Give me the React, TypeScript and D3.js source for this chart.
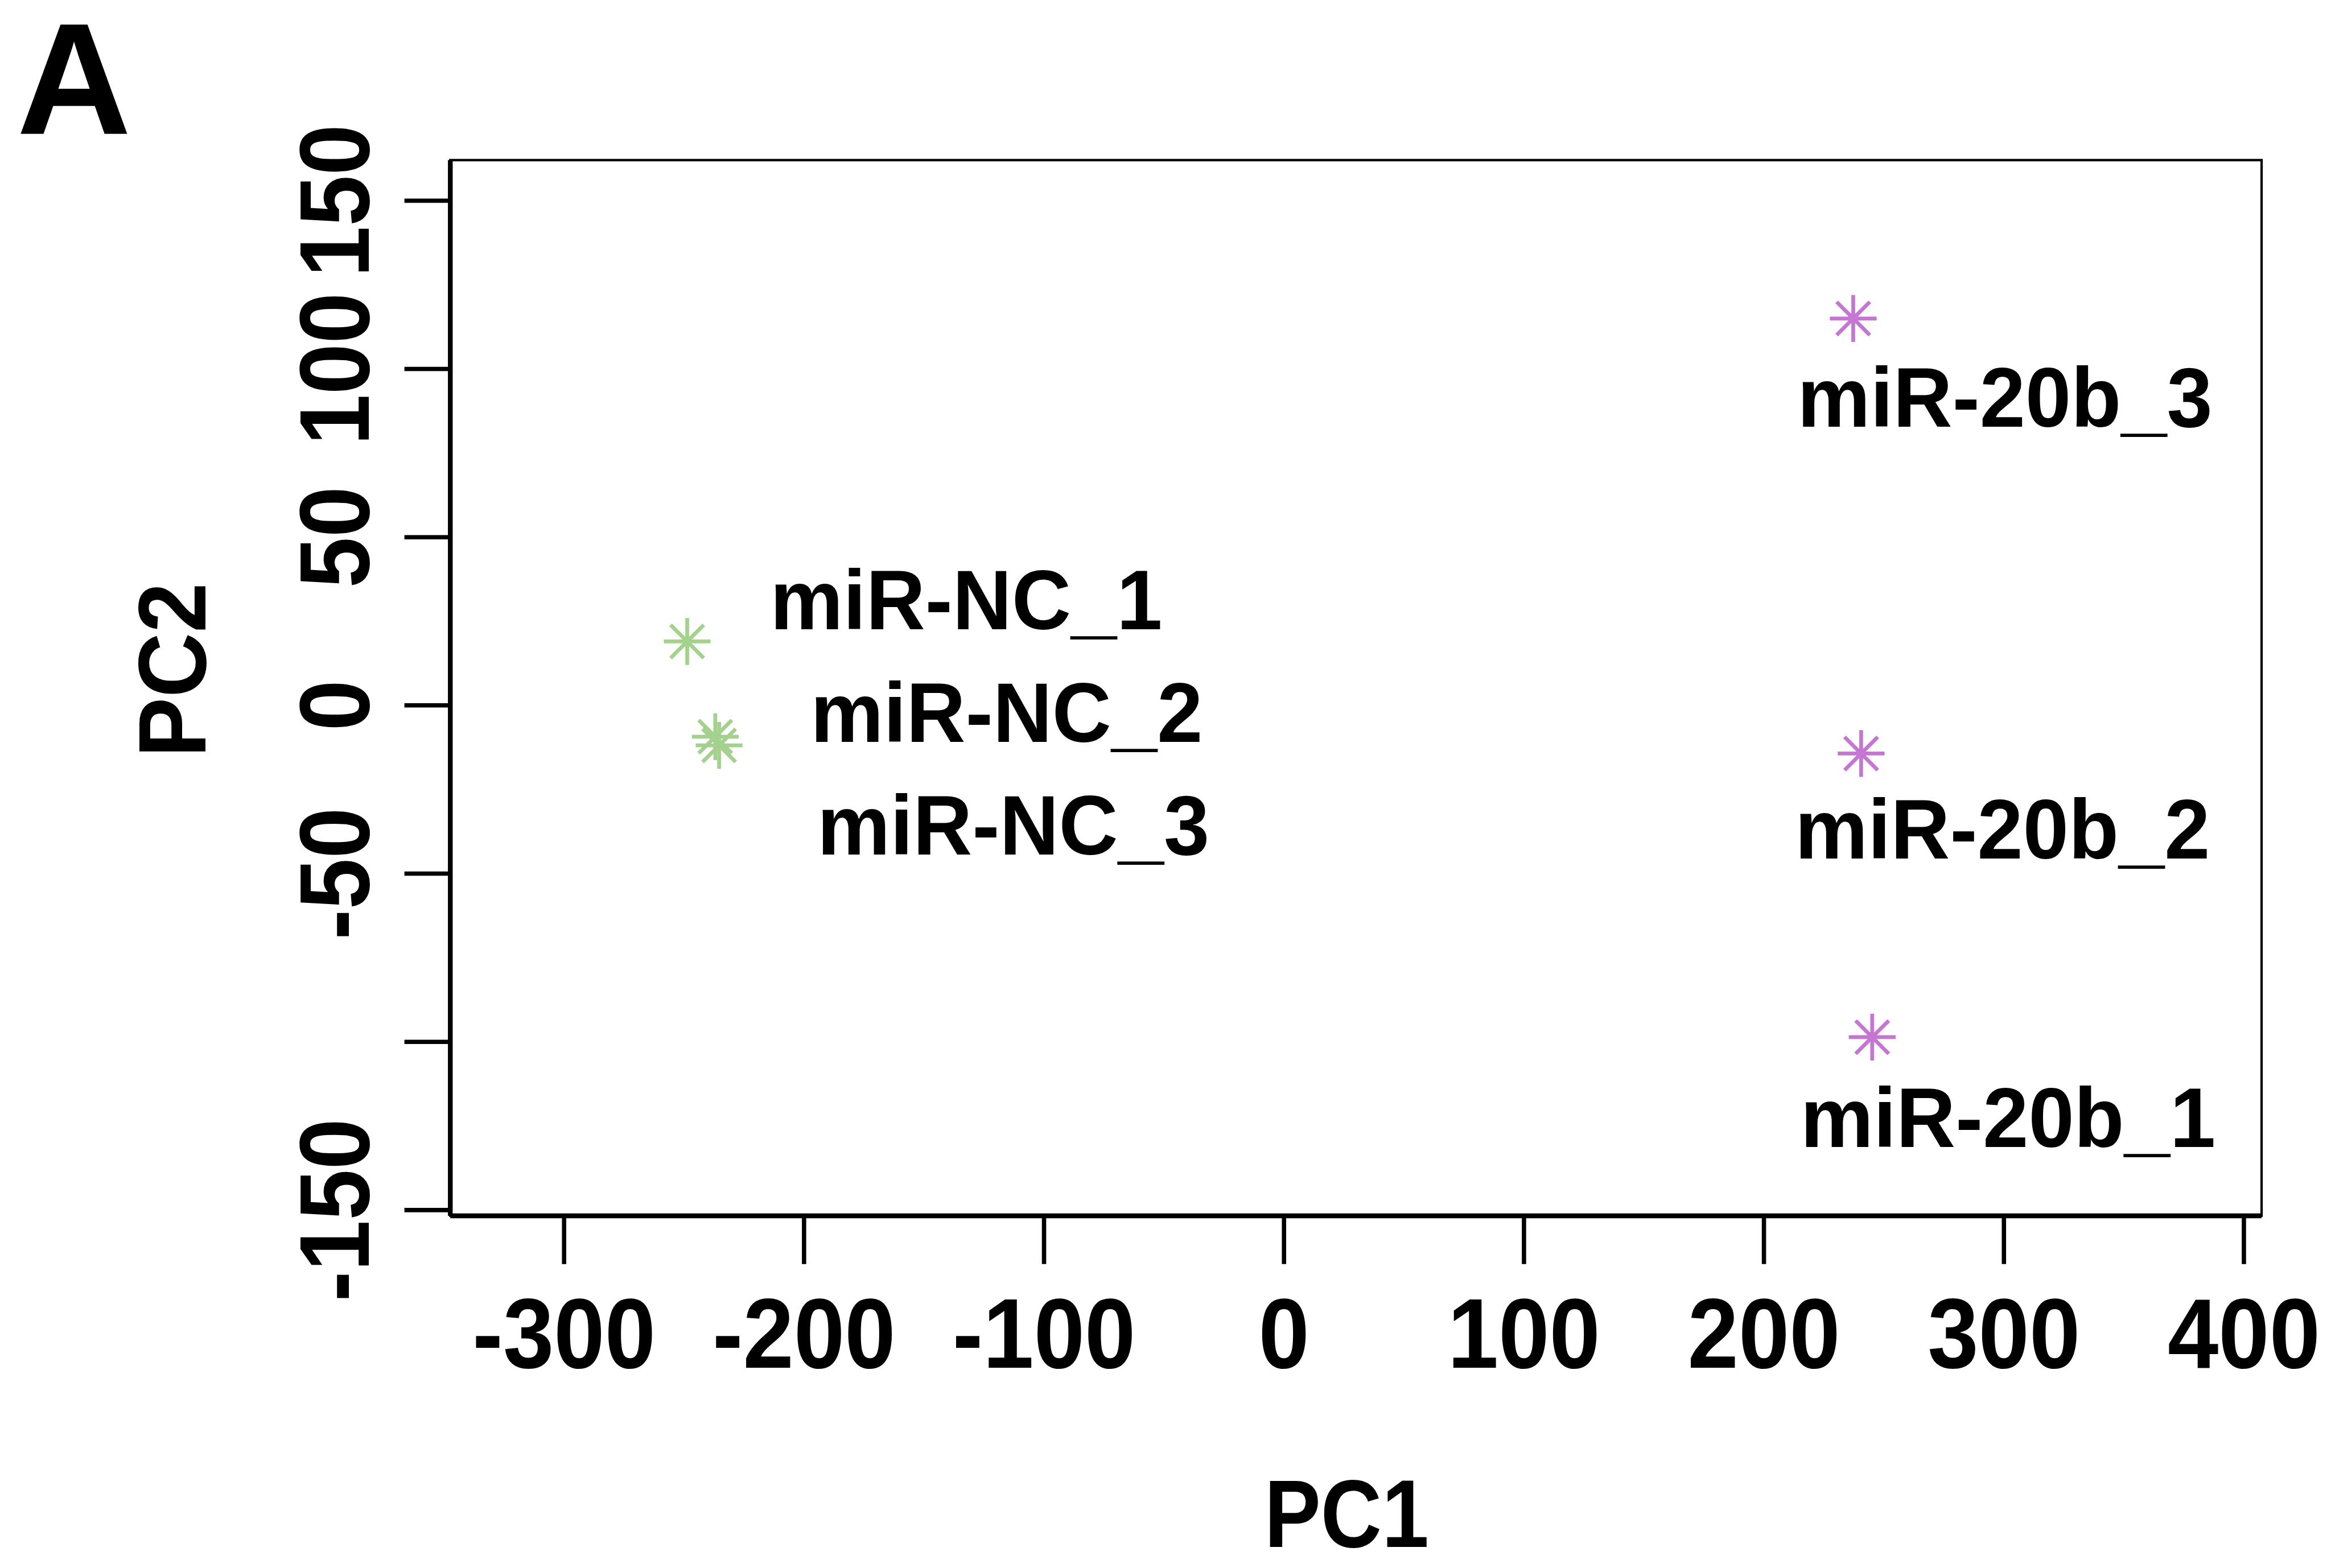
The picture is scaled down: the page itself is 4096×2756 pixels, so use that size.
import React from 'react';
import * as d3 from 'd3';

const S = 0.84;

// data
const samples = ['miR-NC_1', 'miR-NC_2', 'miR-NC_3', 'miR-20b_1', 'miR-20b_2', 'miR-20b_3'];
const groups = ['NC', 'NC', 'NC', '20b', '20b', '20b'];
const pc1 = [-248.7, -237.0, -235.4, 245.1, 240.5, 237.2];
const pc2 = [19.0, -9.3, -11.9, -98.6, -14.3, 115.0];
const labelPC1 = [-132.4, -115.6, -112.8, 301.7, 299.4, 300.4];
const labelPC2 = [31.6, -1.8, -35.3, -122.2, -36.5, 91.9];
const xTicks = [-300, -200, -100, 0, 100, 200, 300, 400];
const yTicks = [-150, -100, -50, 0, 50, 100, 150];
// R drops the overlapping "-100" label; only these are printed
const yTickLabels = [-150, -50, 0, 50, 100, 150];
const groupColors: Record<string, string> = { NC: '#a5d18f', '20b': '#c476d2' };

const FONT = '"Liberation Sans", Arial, Helvetica, sans-serif';

export default function App() {
  const W = 4096;
  const H = 2756;
  const x = d3.scaleLinear().domain([-300, 400]).range([1180 * S, 4694 * S]);
  const y = d3.scaleLinear().domain([-150, 150]).range([2532 * S, 420 * S]);

  const box = { l: 942 * S, r: 4731 * S, t: 335 * S, b: 2544 * S };
  const rArm = 49 * S; // half length of + arms
  const rDiag = rArm / Math.SQRT2;

  const asterisk = (cx: number, cy: number) => {
    const p = d3.path();
    p.moveTo(cx - rArm, cy); p.lineTo(cx + rArm, cy);
    p.moveTo(cx, cy - rArm); p.lineTo(cx, cy + rArm);
    p.moveTo(cx - rDiag, cy - rDiag); p.lineTo(cx + rDiag, cy + rDiag);
    p.moveTo(cx - rDiag, cy + rDiag); p.lineTo(cx + rDiag, cy - rDiag);
    return p.toString();
  };

  return (
    <svg
      width={W}
      height={H}
      viewBox={`0 0 ${W} ${H}`}
      style={{ position: 'absolute', left: 0, top: 0, background: '#fff' }}
      fontFamily={FONT}
      fontWeight="bold"
    >
      <rect x={0} y={0} width={W} height={H} fill="#fff" />
      {/* panel letter */}
      <text x={35 * S} y={280 * S} fontSize={332 * S} fill="#000">A</text>

      {/* box */}
      <rect x={box.l} y={box.t} width={box.r - box.l} height={box.b - box.t}
        fill="none" stroke="#000" strokeWidth={5 * S} />
      <line x1={box.l} x2={box.l} y1={box.t} y2={box.b} stroke="#000" strokeWidth={10 * S} />
      <line x1={box.l} x2={box.r} y1={box.b} y2={box.b} stroke="#000" strokeWidth={10 * S} />

      {/* x axis ticks */}
      {xTicks.map((t) => (
        <g key={'xt' + t}>
          <line x1={x(t)} x2={x(t)} y1={box.b} y2={2645 * S} stroke="#000" strokeWidth={9 * S} />
          <text
            transform={`translate(${x(t)},${2862 * S}) scale(0.92,1)`}
            textAnchor="middle"
            fontSize={208 * S}
            fill="#000"
          >
            {t}
          </text>
        </g>
      ))}

      {/* y axis ticks */}
      {yTicks.map((t) => (
        <line key={'ytl' + t} x1={846 * S} x2={box.l} y1={y(t)} y2={y(t)} stroke="#000" strokeWidth={9 * S} />
      ))}
      {yTickLabels.map((t) => (
        <text
          key={'ytt' + t}
          transform={`translate(${771 * S},${y(t)}) rotate(-90) scale(0.92,1)`}
          textAnchor="middle"
          fontSize={208 * S}
          fill="#000"
        >
          {t}
        </text>
      ))}

      {/* axis titles */}
      <text
        transform={`translate(${2817 * S},${3237 * S}) scale(0.88,1)`}
        textAnchor="middle"
        fontSize={201 * S}
        fill="#000"
      >
        PC1
      </text>
      <text
        transform={`translate(${430 * S},${1402 * S}) rotate(-90) scale(0.94,1)`}
        textAnchor="middle"
        fontSize={200 * S}
        fill="#000"
      >
        PC2
      </text>

      {/* points */}
      {samples.map((s, i) => (
        <path
          key={'p' + s}
          d={asterisk(x(pc1[i]), y(pc2[i]))}
          stroke={groupColors[groups[i]]}
          strokeWidth={8 * S}
          fill="none"
        />
      ))}

      {/* labels */}
      {samples.map((s, i) => (
        <text
          key={'l' + s}
          transform={`translate(${x(labelPC1[i])},${y(labelPC2[i])}) scale(0.97,1)`}
          textAnchor="middle"
          dy="0.358em"
          fontSize={177 * S}
          fill="#000"
        >
          {s}
        </text>
      ))}
    </svg>
  );
}
